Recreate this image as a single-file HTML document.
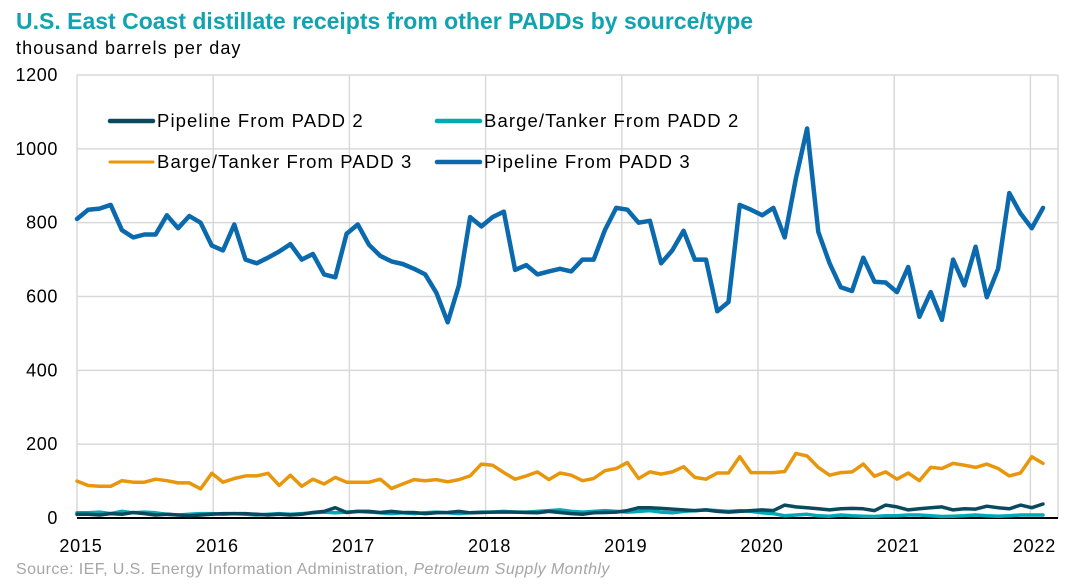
<!DOCTYPE html>
<html><head><meta charset="utf-8">
<style>
body{margin:0;background:#fff;font-family:"Liberation Sans",Arial,sans-serif;}
svg text{font-family:"Liberation Sans",Arial,sans-serif;}
</style></head>
<body>
<svg id="chart" width="1088" height="579" viewBox="0 0 1088 579" xmlns="http://www.w3.org/2000/svg">
<text x="16" y="29" font-size="23" font-weight="bold" fill="#11a3b0">U.S. East Coast distillate receipts from other PADDs by source/type</text>
<text x="16" y="54" font-size="18" letter-spacing="1.1" fill="#000">thousand barrels per day</text>
<g id="grid"></g>
<g id="series"></g>
<g id="legend"></g>
<text x="16" y="574" font-size="16" letter-spacing="0.4" fill="#a6a6a6">Source: IEF, U.S. Energy Information Administration, <tspan font-style="italic">Petroleum Supply Monthly</tspan></text>
</svg>
<script>
const yTicks = [0,200,400,600,800,1000,1200];
const xYears = ["2015","2016","2017","2018","2019","2020","2021","2022"];
const pipelineP3 = [810,835,838,848,780,760,768,768,820,785,818,800,738,725,795,700,690,705,722,742,700,715,660,652,770,795,740,710,695,688,675,660,610,530,630,815,790,815,830,672,685,660,668,675,668,700,700,780,840,835,800,805,690,725,778,700,700,560,585,848,835,820,840,760,920,1055,775,690,625,615,705,640,638,612,680,545,612,537,700,630,735,598,675,880,825,785,840];
const bargeP3 = [100,88,86,86,101,97,97,105,101,95,95,79,121,97,107,114,114,121,88,116,86,105,92,110,97,97,97,105,80,92,104,101,104,98,104,114,146,143,123,105,114,125,104,122,116,101,107,128,134,150,107,125,119,125,139,110,105,122,122,166,123,123,123,126,175,168,137,116,123,125,146,113,125,105,122,101,137,134,148,143,137,146,134,114,122,166,148];
const pipelineP2 = [10,10,8,12,10,15,12,8,10,8,6,8,10,12,12,12,10,8,10,8,10,15,18,28,15,18,18,15,18,15,15,12,14,15,18,14,15,16,16,16,15,14,18,15,12,10,14,15,16,20,28,28,26,24,22,20,22,18,16,18,20,22,20,35,30,28,25,22,25,26,25,20,35,30,22,25,28,30,22,25,24,32,28,25,35,28,38];
const bargeP2 = [14,14,16,12,18,14,16,14,10,8,10,12,12,10,12,10,8,10,12,10,12,14,16,14,16,18,16,14,12,14,12,14,16,14,12,14,16,16,18,16,16,18,20,22,18,16,18,20,18,16,18,20,16,14,18,20,22,20,18,20,18,14,12,6,8,10,6,5,8,6,5,4,6,6,8,8,6,4,5,6,8,6,5,6,8,8,8];
const seriesNames = ["Pipeline From PADD 2","Barge/Tanker From PADD 2","Barge/Tanker From PADD 3","Pipeline From PADD 3"];
const seriesColors = ["#0b4a5e","#00a9b5","#e8960c","#0a6aad"];

const NS="http://www.w3.org/2000/svg";
const L=77,R=1058,T=75,B=518,YMAX=1200;
const yearW=136.2;
const XEND=1043;
function yPix(v){return B-(v/YMAX)*(B-T);}
function xYear(i){return L+i*yearW;}
function xPoint(i,n){return L+(XEND-L)*i/(n-1);}
function mk(tag,attrs,parent){const e=document.createElementNS(NS,tag);for(const k in attrs)e.setAttribute(k,attrs[k]);parent.appendChild(e);return e;}
const grid=document.getElementById('grid');
yTicks.forEach(v=>{
  if(v>0){const ln=mk('line',{x1:L,x2:R,y1:yPix(v),y2:yPix(v),stroke:'#d9d9d9','stroke-width':1.5},grid);
  
  }
  const t=mk('text',{x:58,y:yPix(v)+6,'text-anchor':'end','font-size':18,'letter-spacing':0.6,fill:'#000'},grid);
  t.textContent=v;
  
  
});
xYears.forEach((y,i)=>{
  const x=xYear(i);
  if(i>0){const ln=mk('line',{x1:x,x2:x,y1:T,y2:B,stroke:'#d9d9d9','stroke-width':1.5},grid);
  
  }
  const t=mk('text',{x:x+4,y:552,'text-anchor':'middle','font-size':18,'letter-spacing':0.8,fill:'#000'},grid);
  t.textContent=y;
  
  
});
const rgt=mk('line',{x1:R,x2:R,y1:T,y2:B,stroke:'#d9d9d9','stroke-width':1.5},grid);


const yax=mk('line',{x1:L,x2:L,y1:T,y2:B,stroke:'#d9d9d9','stroke-width':1.5},grid);


const xax=mk('line',{x1:L,x2:R,y1:B,y2:B,stroke:'#000','stroke-width':2},grid);



const sg=document.getElementById('series');
const all=[pipelineP2,bargeP2,bargeP3,pipelineP3];
const order=[2,3,1,0];
const names=['line-pipeline-padd2','line-barge-padd2','line-barge-padd3','line-pipeline-padd3'];
order.forEach(k=>{
  const arr=all[k];
  const d=arr.map((v,i)=>(i?'L':'M')+xPoint(i,arr.length).toFixed(1)+','+yPix(v).toFixed(1)).join('');
  const p=mk('path',{d:d,fill:'none',stroke:seriesColors[k],'stroke-width':k===3?4.5:3.5,'stroke-linejoin':'round','stroke-linecap':'round'},sg);
  
  
});

const lg=document.getElementById('legend');
const lpos=[[110,121],[437,121],[110,162],[437,162]];
seriesNames.forEach((n,k)=>{
  const [x,y]=lpos[k];
  const g=mk('g',{},lg);
  
  
  mk('line',{x1:x,x2:x+43,y1:y,y2:y,stroke:seriesColors[k],'stroke-width':k===2?3:4.5,'stroke-linecap':'round'},g);
  const t=mk('text',{x:x+47,y:y+6,'font-size':18.5,'letter-spacing':1.1,fill:'#000'},g);
  t.textContent=n;
});
</script>
</body></html>
